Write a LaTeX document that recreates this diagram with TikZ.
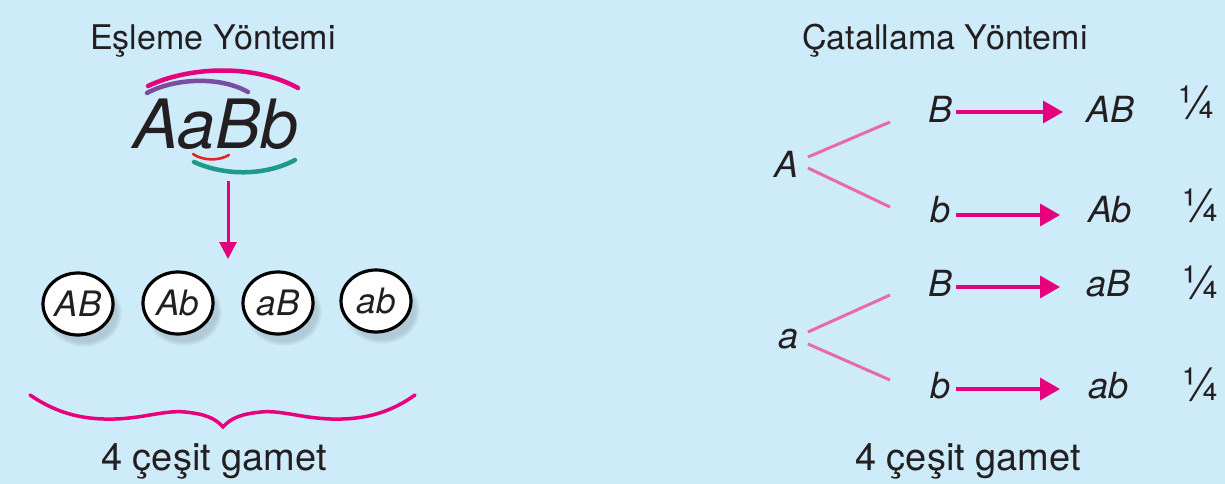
\documentclass[tikz,border=0pt]{standalone}
\usepackage{fontspec}
\setmainfont{TeX Gyre Heros}
\usetikzlibrary{arrows.meta,shapes.geometric,shadows}
\definecolor{bg}{HTML}{CDEBF9}
\definecolor{mag}{HTML}{E6007E}
\definecolor{pinkline}{HTML}{E96AA8}
\definecolor{purp}{HTML}{7A4D9E}
\definecolor{tealarc}{HTML}{1F9A8A}
\definecolor{redarc}{HTML}{E52421}
\definecolor{ink}{HTML}{231F20}

\begin{document}
\begin{tikzpicture}[x=1pt,y=-1pt,
  lbl/.style={anchor=base, inner sep=0pt, text=ink},
  title/.style={lbl, font=\fontsize{34}{34}\selectfont},
  caption/.style={lbl, font=\fontsize{38}{38}\selectfont},
  allele/.style={lbl, font=\fontsize{36}{36}\selectfont\itshape},
  frac/.style={lbl, font=\fontsize{46}{46}\selectfont},
  gamete/.style={ellipse, draw=black, line width=3.2pt, fill=white,
    minimum width=70pt, minimum height=62pt, inner sep=0pt, text=ink,
    font=\fontsize{35}{35}\selectfont\itshape,
    circular drop shadow={shadow xshift=5pt, shadow yshift=-8pt, opacity=0.3, fill=black!45!bg}},
  branch/.style={pinkline, line width=3pt},
  pairarc/.style={line width=4.5pt, line cap=round},
  genarrow/.style={mag, line width=3.5pt, -{Triangle[length=20pt,width=22pt]}},
  downarrow/.style={mag, line width=3pt, -{Triangle[length=17pt,width=17pt]}}
]
% background
\useasboundingbox (0,0) rectangle (1225,484);
\fill[bg] (0,0) rectangle (1225,484);

% ---------- left: pairing method ----------
\node[title] (lefttitle) at (213,50) {Eşleme Yöntemi};
\node[lbl, font=\fontsize{68}{68}\selectfont\itshape] (AaBb) at (216,148) {AaBb};

% allele pairing arcs
\draw[pairarc, mag] (148,86) .. controls (190,66) and (255,64) .. (298,88);
\draw[pairarc, purp] (147,93) .. controls (175,78) and (220,76) .. (248,92);
\draw[line width=2.6pt, line cap=round, redarc] (193,154) .. controls (203,161) and (219,161) .. (229,155);
\draw[pairarc, tealarc] (194,162) .. controls (225,176) and (265,176) .. (295,160);

\coordinate (downtip) at (228,259);
\draw[downarrow] ([yshift=-33pt]AaBb.base -| downtip) -- (downtip);

% gametes
\node[gamete] (g1) at (78,304) {AB};
\node[gamete] (g2) at (178,303) {Ab};
\node[gamete] (g3) at (278,303) {aB};
\node[gamete] (g4) at (376,301) {ab};

% brace
\draw[mag, line width=3.5pt, line cap=round, line join=miter]
  (30,395) .. controls (55,412) and (80,420) .. (115,419)
  .. controls (145,418) and (165,410) .. (185,412)
  .. controls (205,414) and (215,418) .. (223,427)
  .. controls (231,418) and (241,414) .. (261,412)
  .. controls (281,410) and (301,418) .. (331,419)
  .. controls (366,420) and (391,412) .. (415,395);

\node[caption] (leftcap) at (214,470) {4 çeşit gamet};

% ---------- right: branching method ----------
\node[title] (righttitle) at (945,50) {Çatallama Yöntemi};

\node[allele] (A) at (786,177) {A};
\node[allele] (a) at (788,348) {a};

\node[allele] (B1) at (940,122) {B};
\node[allele] (b1) at (940,222) {b};
\node[allele] (B2) at (940,296) {B};
\node[allele] (b2) at (940,398) {b};

\node[allele] (AB) at (1110,122) {AB};
\node[allele] (Ab) at (1110,222) {Ab};
\node[allele] (aB) at (1108,296) {aB};
\node[allele] (ab) at (1108,398) {ab};

\node[frac] (f1) at (1197,119) {¼};
\node[frac] (f2) at (1201,221) {¼};
\node[frac] (f3) at (1201,298) {¼};
\node[frac] (f4) at (1201,400) {¼};

% branches
\draw[branch] ([shift={(22,-20)}]A.base) -- ([shift={(-50,0)}]B1.base);
\draw[branch] ([shift={(22,-9)}]A.base) -- ([shift={(-50,-15)}]b1.base);
\draw[branch] ([shift={(20,-16)}]a.base) -- ([shift={(-50,-1)}]B2.base);
\draw[branch] ([shift={(20,-4)}]a.base) -- ([shift={(-50,-18)}]b2.base);

% arrows to gametes
\draw[genarrow] ([shift={(16,-10)}]B1.base) -- ([shift={(-47,-10)}]AB.base);
\draw[genarrow] ([shift={(16,-7)}]b1.base) -- ([shift={(-50,-7)}]Ab.base);
\draw[genarrow] ([shift={(16,-9)}]B2.base) -- ([shift={(-48,-9)}]aB.base);
\draw[genarrow] ([shift={(16,-9)}]b2.base) -- ([shift={(-48,-9)}]ab.base);

\node[caption] (rightcap) at (968,470) {4 çeşit gamet};
\end{tikzpicture}
\end{document}
